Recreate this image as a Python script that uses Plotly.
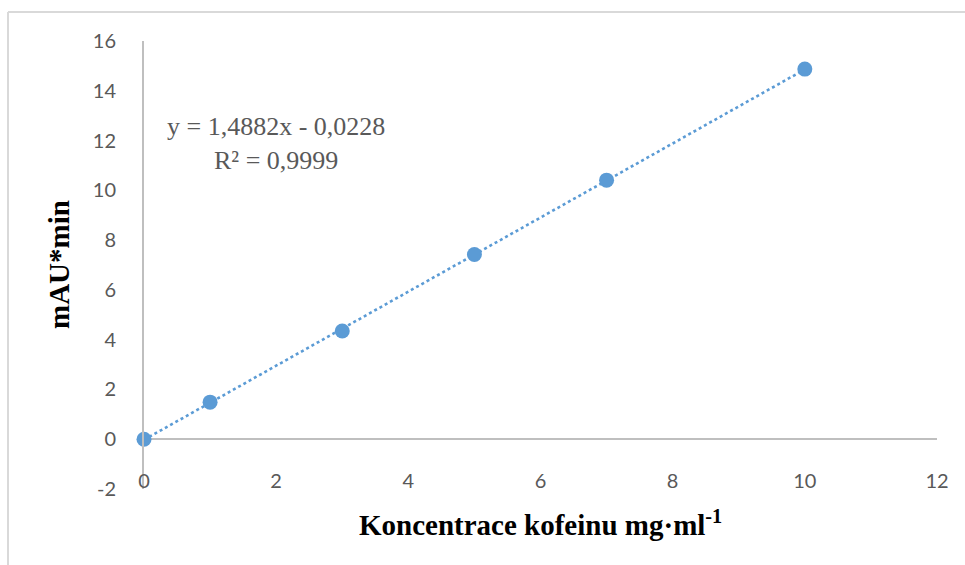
import numpy as np
import plotly.graph_objects as go

# Calibration data: caffeine concentration vs. peak area
konc = [0, 1, 3, 5, 7, 10]
plocha = [0.0, 1.49, 4.35, 7.42, 10.41, 14.87]

# Linear regression coefficients stated in the equation label
slope = 1.4882
intercept = -0.0228
r2 = 0.9999

x_ticks = [0, 2, 4, 6, 8, 10, 12]
y_ticks = [-2, 0, 2, 4, 6, 8, 10, 12, 14, 16]

W, H = 965, 565
L, R, T, B = 144, 28, 41, 76
pw, ph = W - L - R, H - T - B

def px_x(px):
    return (px - L) / pw

def px_y(py):
    return (H - B - py) / ph

blue = "#5b9bd5"
gray_txt = "#595959"
tick_font = dict(family="Lato, Open Sans, sans-serif", size=20, color=gray_txt)
serif = "Liberation Serif, Times New Roman, serif"

fit_x = np.array([min(konc), max(konc)], dtype=float)
fit_y = slope * fit_x + intercept

fig = go.Figure()
fig.add_trace(go.Scatter(
    x=fit_x, y=fit_y, mode="lines",
    line=dict(color=blue, width=2.6, dash="dot"),
    hoverinfo="skip", showlegend=False, cliponaxis=False,
))
fig.add_trace(go.Scatter(
    x=konc, y=plocha, mode="markers",
    marker=dict(color=blue, size=15, line=dict(width=0)),
    showlegend=False, cliponaxis=False,
))

fig.update_layout(
    width=W, height=H,
    margin=dict(l=L, r=R, t=T, b=B, pad=0),
    paper_bgcolor="white", plot_bgcolor="white",
    xaxis=dict(
        range=[0, 12], tickvals=x_ticks, ticktext=[str(v) for v in x_ticks],
        showgrid=False, zeroline=False, showline=False, ticks="",
        ticklabelstandoff=-22, tickfont=tick_font,
    ),
    yaxis=dict(
        range=[-2, 16], tickvals=y_ticks, ticktext=[str(v) for v in y_ticks],
        showgrid=False, zeroline=True, zerolinecolor="#bfbfbf", zerolinewidth=2,
        showline=True, linecolor="#bfbfbf", linewidth=2, ticks="",
        ticklabelstandoff=22, tickfont=tick_font,
    ),
    font=dict(family=serif),
)

# Chart frame (top and left edges)
frame = dict(type="line", xref="paper", yref="paper",
             line=dict(color="#d9d9d9", width=2))
fig.add_shape(x0=px_x(8), x1=px_x(965), y0=px_y(12), y1=px_y(12), **frame)
fig.add_shape(x0=px_x(8), x1=px_x(8), y0=px_y(12), y1=px_y(566), **frame)

# Regression equation
eq_text = (f"y = {slope:.4f}x - {abs(intercept):.4f}".replace(".", ",")
           + "<br>" + f"R² = {r2:.4f}".replace(".", ","))
fig.add_annotation(
    x=px_x(276), y=px_y(143), xref="paper", yref="paper",
    xanchor="center", yanchor="middle",
    text=eq_text, showarrow=False, align="center",
    font=dict(family=serif, size=26, color=gray_txt),
)

# Axis titles
fig.add_annotation(
    x=px_x(540), y=px_y(523), xref="paper", yref="paper",
    xanchor="center", yanchor="middle",
    text="<b>Koncentrace kofeinu mg·ml<sup>-1</sup></b>", showarrow=False,
    font=dict(family=serif, size=29, color="black"),
)
fig.add_annotation(
    x=px_x(59), y=px_y(265), xref="paper", yref="paper",
    xanchor="center", yanchor="middle",
    text="<b>mAU*min</b>", showarrow=False, textangle=-90,
    font=dict(family=serif, size=29, color="black"),
)

fig.write_html("out.html")
